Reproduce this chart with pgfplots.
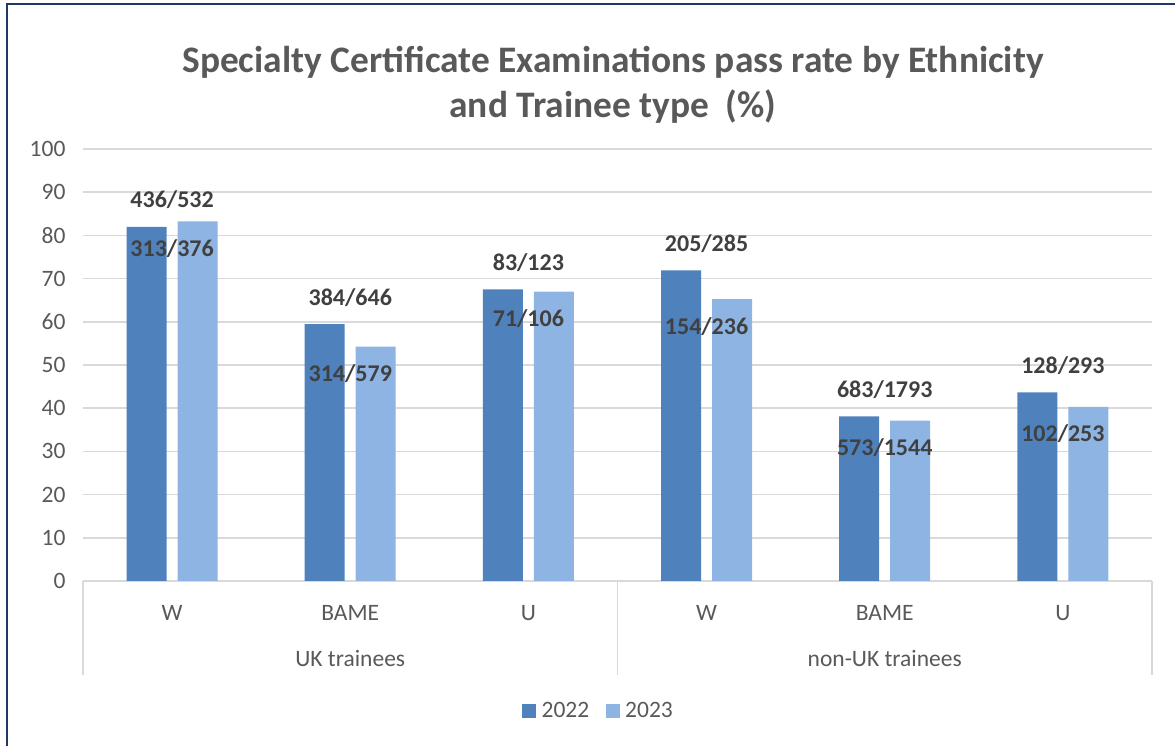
\documentclass[border=0pt]{standalone}
\usepackage{fontspec}
\setmainfont{Carlito}
\usepackage{pgfplots}
\pgfplotsset{compat=1.18}
\definecolor{c22}{HTML}{4F81BD}
\definecolor{c23}{HTML}{8EB4E3}
\definecolor{txt}{HTML}{595959}
\definecolor{lbl}{HTML}{404040}
\definecolor{grd}{HTML}{D9D9D9}
\definecolor{frm}{HTML}{1F3864}
\newcommand{\tfont}{\fontsize{23.5}{28}\selectfont}
\newcommand{\lfont}{\bfseries\fontsize{24}{28}\selectfont}
\begin{document}
\begin{tikzpicture}[x=1pt,y=1pt]
\useasboundingbox (0,0) rectangle (1175,746);
\draw[frm, line width=2pt] (6.5,0) -- (6.5,741.5) -- (1175,741.5);
\begin{axis}[
  at={(83pt,165pt)}, anchor=south west,
  scale only axis, width=1069pt, height=432pt,
  xmin=-0.5, xmax=5.5, ymin=0, ymax=100,
  ytick={0,10,...,100},
  ymajorgrids, grid style={grd, line width=1.5pt},
  xtick={0,...,5}, xticklabels={W,BAME,U,W,BAME,U},
  minor xtick={-0.5,2.5,5.5},
  extra x ticks={1,4},
  extra x tick labels={UK trainees,non-UK trainees},
  extra x tick style={xticklabel style={yshift=-46pt}},
  axis x line*=bottom, axis y line*=left,
  x axis line style={grd, line width=1.5pt},
  y axis line style={draw=none},
  major tick length=0pt,
  minor tick length=94pt,
  tick align=outside,
  minor tick style={grd, line width=1.5pt},
  /pgf/number format/assume math mode=true,
  yticklabel style={font=\tfont, text=txt, xshift=-14pt},
  xticklabel style={font=\tfont, text=txt, anchor=base, yshift=-40pt},
  legend style={at={(0.482,-0.301)}, anchor=center, draw=none, fill=none,
    legend columns=2, font=\tfont, text=txt, cells={anchor=west},
    nodes={inner sep=1.5pt},
    /tikz/every odd column/.append style={column sep=4pt},
    /tikz/every even column/.append style={column sep=15pt}},
  legend image code/.code={\fill[#1] (0pt,-7pt) rectangle (14pt,7pt);},
]
\addplot[ybar, bar width=40pt, bar shift=-25.5pt, fill=c22, draw=none,
  nodes near coords, point meta=explicit symbolic,
  nodes near coords style={anchor=base, yshift=19pt, font=\lfont, text=lbl}]
  coordinates {(0,81.95)[436/532] (1,59.44)[384/646] (2,67.48)[83/123]
               (3,71.93)[205/285] (4,38.09)[683/1793] (5,43.69)[128/293]};
\addlegendentry{2022}
\addplot[ybar, bar width=40pt, bar shift=25.5pt, fill=c23, draw=none,
  nodes near coords, point meta=explicit symbolic,
  nodes near coords style={anchor=base, yshift=-35pt, font=\lfont, text=lbl}]
  coordinates {(0,83.24)[313/376] (1,54.23)[314/579] (2,66.98)[71/106]
               (3,65.25)[154/236] (4,37.11)[573/1544] (5,40.32)[102/253]};
\addlegendentry{2023}
\end{axis}
\node[anchor=base, font=\bfseries\fontsize{37.4}{44}\selectfont, text=txt] at (613,673) {Specialty Certificate Examinations pass rate by Ethnicity};
\node[anchor=base, font=\bfseries\fontsize{37.4}{44}\selectfont, text=txt] at (613,628) {and Trainee type\ \ (\%)};
\end{tikzpicture}
\end{document}
